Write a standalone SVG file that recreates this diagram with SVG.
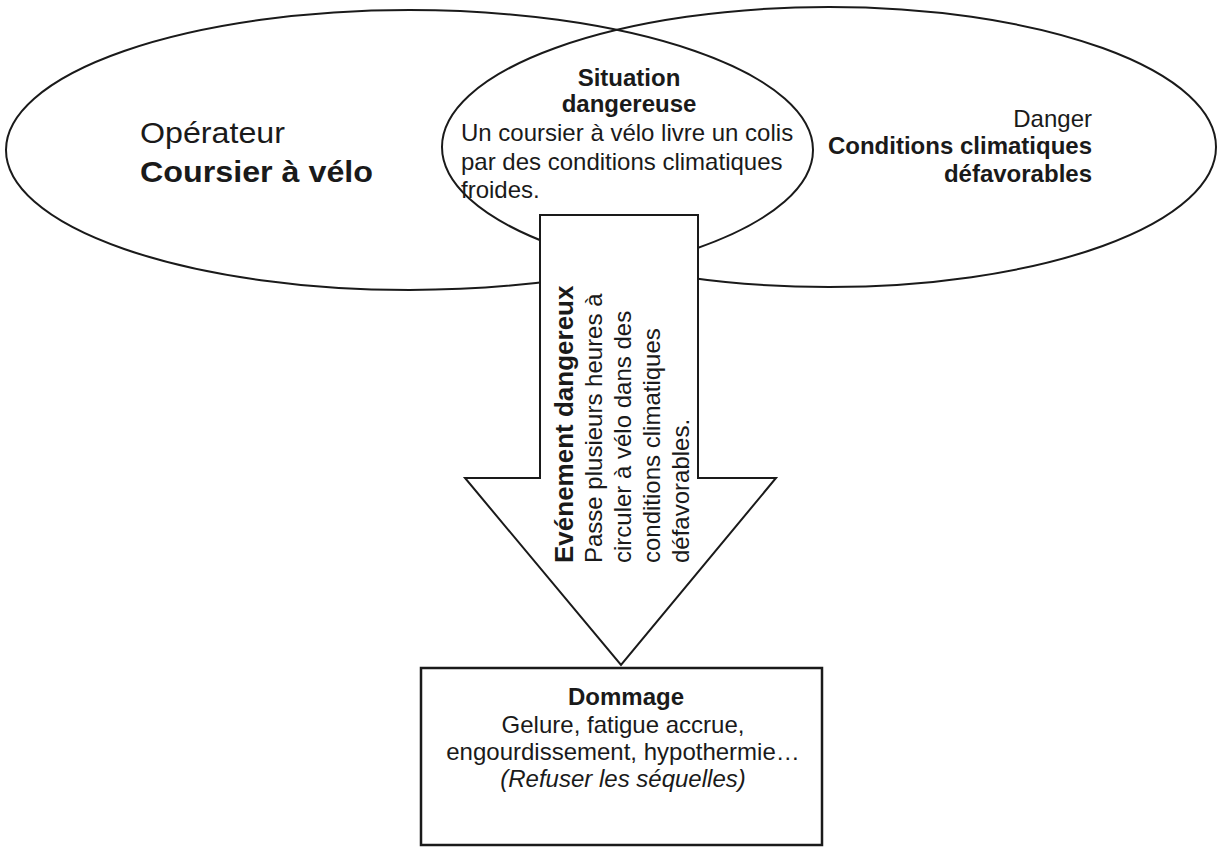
<svg xmlns="http://www.w3.org/2000/svg" width="1218" height="847" viewBox="0 0 1218 847">
<style>
.ln{fill:none;stroke:#1a1a1a;stroke-width:2}
.wf{fill:#fff;stroke:#1a1a1a;stroke-width:2}
text{font-family:"Liberation Sans",Arial,sans-serif;fill:#1a1a1a}
.r{font-size:24px}
.b{font-size:24px;font-weight:bold}
.c{text-anchor:middle}
.e{text-anchor:end}
</style>
<rect width="1218" height="847" fill="#fff"/>
<g id="operateur">
<ellipse class="ln" cx="409.5" cy="150" rx="403.5" ry="140"/>
<text x="140" y="143" style="font-size:30px" textLength="145" lengthAdjust="spacingAndGlyphs">Opérateur</text>
<text x="140" y="182" style="font-size:30px;font-weight:bold" textLength="233" lengthAdjust="spacingAndGlyphs">Coursier à vélo</text>
</g>
<g id="danger">
<ellipse class="ln" cx="829" cy="147" rx="387" ry="140"/>
<text class="r e" x="1092" y="127">Danger</text>
<text class="b e" x="1092" y="154">Conditions climatiques</text>
<text class="b e" x="1092" y="182">défavorables</text>
</g>
<g id="situation">
<text class="b c" x="629" y="86">Situation</text>
<text class="b c" x="629" y="112">dangereuse</text>
<text class="r" x="461" y="141">Un coursier à vélo livre un colis</text>
<text class="r" x="461" y="170">par des conditions climatiques</text>
<text class="r" x="461" y="198">froides.</text>
</g>
<g id="connectors">
<g id="evenement">
<polygon class="wf" points="540,215 698,215 698,478 776,478 621,665 465,478 540,478"/>
<g transform="translate(0,563) rotate(-90)">
<text x="0" y="573" style="font-size:26px;font-weight:bold">Evénement dangereux</text>
<text class="r" x="0" y="602">Passe plusieurs heures à</text>
<text class="r" x="0" y="631">circuler à vélo dans des</text>
<text class="r" x="0" y="660">conditions climatiques</text>
<text class="r" x="0" y="689">défavorables.</text>
</g>
</g>
</g>
<g id="dommage">
<rect x="421" y="668" width="401" height="177" fill="#fff" stroke="#1a1a1a" stroke-width="2.5"/>
<text class="b c" x="626" y="705">Dommage</text>
<text class="r c" x="623" y="733">Gelure, fatigue accrue,</text>
<text class="r c" x="623" y="760">engourdissement, hypothermie…</text>
<text class="r c" x="623" y="787" style="font-style:italic">(Refuser les séquelles)</text>
</g>
</svg>
